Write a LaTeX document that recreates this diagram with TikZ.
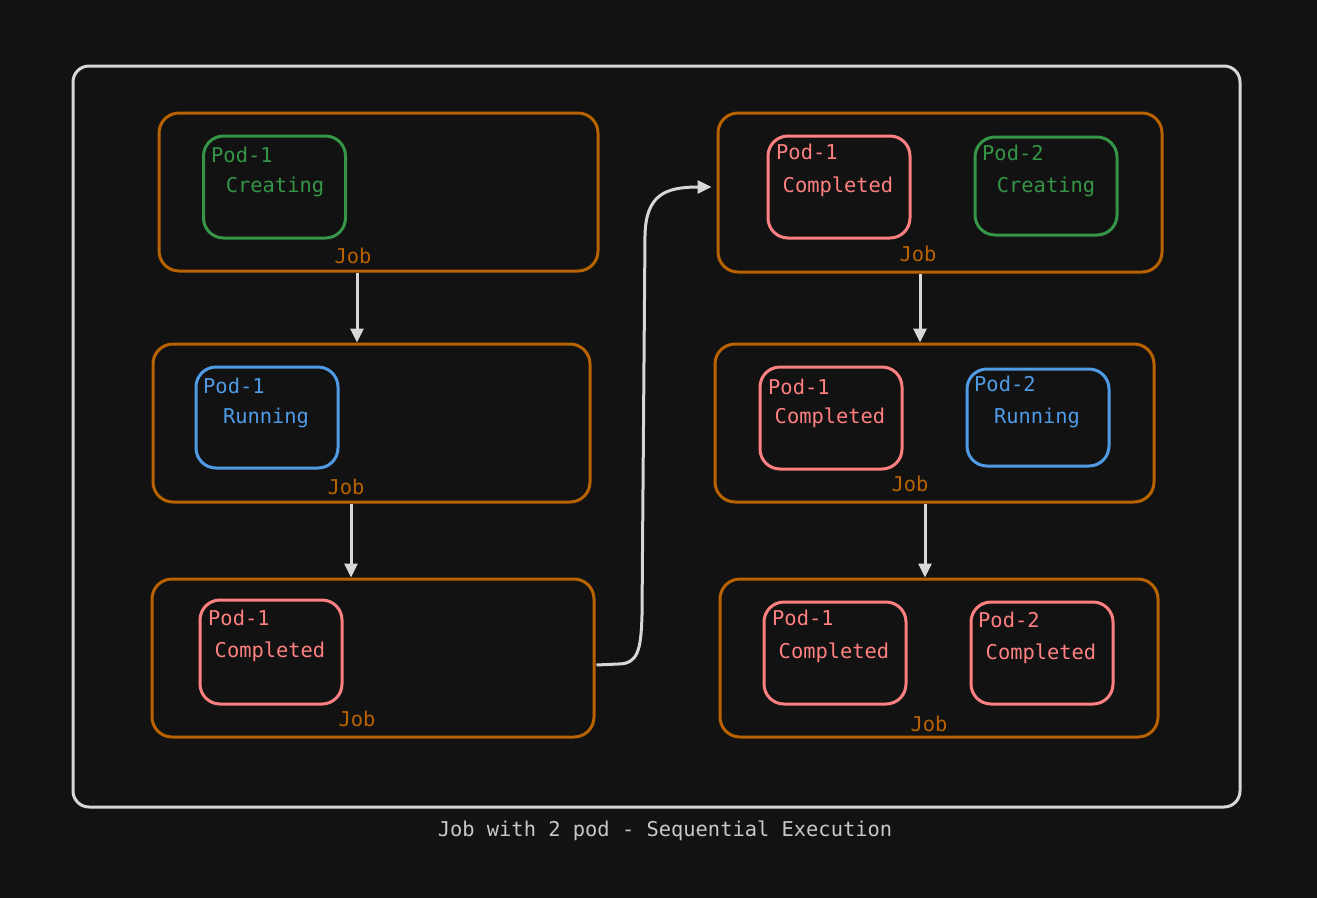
\documentclass[tikz,border=0pt]{standalone}
\usepackage{fontspec}
\setmonofont{DejaVu Sans Mono}
\usetikzlibrary{arrows.meta,calc}
\definecolor{bg}{RGB}{18,18,18}
\definecolor{frame}{RGB}{215,215,215}
\definecolor{joborange}{RGB}{185,98,0}
\definecolor{podgreen}{RGB}{52,150,70}
\definecolor{podblue}{RGB}{80,155,230}
\definecolor{podpink}{RGB}{255,128,128}
\definecolor{captiongray}{RGB}{200,200,200}
\tikzset{
  jobbox/.style={draw=joborange, line width=3pt, rounded corners=20pt, inner sep=0pt},
  podbox/.style={line width=3pt, rounded corners=20pt, inner sep=0pt, minimum width=142pt},
  greenpod/.style={podbox, draw=podgreen},
  bluepod/.style={podbox, draw=podblue},
  pinkpod/.style={podbox, draw=podpink},
  txt/.style={font=\ttfamily\fontsize{20.4}{22}\selectfont, inner sep=0pt},
  podname/.style={txt, anchor=west},
  joblabel/.style={txt, text=joborange},
  arr/.style={draw=frame, line width=3pt, -{Triangle[length=14pt,width=13pt]}}
}
\begin{document}
\begin{tikzpicture}[x=1pt,y=-1pt]
\fill[bg] (0,0) rectangle (1317,898);
\useasboundingbox (0,0) rectangle (1317,898);

% outer frame
\node[draw=frame, line width=3pt, rounded corners=16pt, minimum width=1167pt, minimum height=741pt, inner sep=0pt] (outer) at (656.5,436.5) {};
\node[txt, text=captiongray] (caption) at (665,831) {Job with 2 pod - Sequential Execution};

% left column jobs
\node[jobbox, minimum width=439pt, minimum height=158pt] (j1) at (378.5,192) {};
\node[jobbox, minimum width=437pt, minimum height=158pt] (j2) at (371.5,423) {};
\node[jobbox, minimum width=442pt, minimum height=158pt] (j3) at (373,658) {};
% right column jobs
\node[jobbox, minimum width=444pt, minimum height=159pt] (r1) at (940,192.5) {};
\node[jobbox, minimum width=439pt, minimum height=158pt] (r2) at (934.5,423) {};
\node[jobbox, minimum width=438pt, minimum height=158pt] (r3) at (939,658) {};

% job labels
\node[joblabel] (j1l) at (353,256) {Job};
\node[joblabel] (j2l) at (346,487) {Job};
\node[joblabel] (j3l) at (357,719) {Job};
\node[joblabel] (r1l) at (918,254) {Job};
\node[joblabel] (r2l) at (910,484) {Job};
\node[joblabel] (r3l) at (929,724) {Job};

% pods left
\node[greenpod, minimum height=102pt] (p1) at (274.5,187) {};
\node[podname, text=podgreen] (p1n) at (211,155) {Pod-1};
\node[txt, text=podgreen] (p1s) at (275,187) {Creating};

\node[bluepod, minimum height=101pt] (p2) at (267,417.5) {};
\node[podname, text=podblue] (p2n) at (203,386) {Pod-1};
\node[txt, text=podblue] (p2s) at (266,418) {Running};

\node[pinkpod, minimum height=104pt] (p3) at (271,652) {};
\node[podname, text=podpink] (p3n) at (208,618) {Pod-1};
\node[txt, text=podpink] (p3s) at (270,652) {Completed};

% pods right row 1
\node[pinkpod, minimum height=102pt] (q1a) at (839,187) {};
\node[podname, text=podpink] (q1an) at (776,152) {Pod-1};
\node[txt, text=podpink] (q1as) at (838,187) {Completed};

\node[greenpod, minimum height=98pt] (q1b) at (1046,186) {};
\node[podname, text=podgreen] (q1bn) at (982,153) {Pod-2};
\node[txt, text=podgreen] (q1bs) at (1046,187) {Creating};

% pods right row 2
\node[pinkpod, minimum height=102pt] (q2a) at (831,418) {};
\node[podname, text=podpink] (q2an) at (768,387) {Pod-1};
\node[txt, text=podpink] (q2as) at (830,418) {Completed};

\node[bluepod, minimum height=97pt] (q2b) at (1038,417.5) {};
\node[podname, text=podblue] (q2bn) at (974,384) {Pod-2};
\node[txt, text=podblue] (q2bs) at (1037,418) {Running};

% pods right row 3
\node[pinkpod, minimum height=102pt] (q3a) at (835,653) {};
\node[podname, text=podpink] (q3an) at (772,618) {Pod-1};
\node[txt, text=podpink] (q3as) at (834,653) {Completed};

\node[pinkpod, minimum height=102pt] (q3b) at (1042,653) {};
\node[podname, text=podpink] (q3bn) at (978,620) {Pod-2};
\node[txt, text=podpink] (q3bs) at (1041,654) {Completed};

% arrows
\draw[arr] ([xshift=-21.5pt]j1.south) -- ([xshift=-21.5pt]j1.south |- j2.north);
\draw[arr] ([xshift=-20.5pt]j2.south) -- ([xshift=-20.5pt]j2.south |- j3.north);
\draw[arr] ([xshift=-20pt]r1.south) -- ([xshift=-20pt]r1.south |- r2.north);
\draw[arr] ([xshift=-9.5pt]r2.south) -- ([xshift=-9.5pt]r2.south |- r3.north);
\coordinate (tipend) at ([xshift=-5pt,yshift=5.5pt]r1.west);
\draw[arr] ([xshift=1pt,yshift=-7pt]j3.east) -- (618,664)
  .. controls (638,664) and (641,650) .. (642,615)
  -- (645,235)
  .. controls (646,195) and (665,187) .. (tipend);
\end{tikzpicture}
\end{document}
